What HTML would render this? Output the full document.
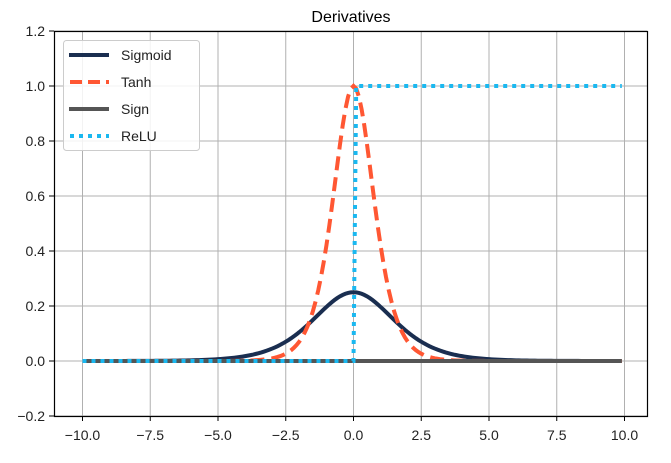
<!DOCTYPE html><html><head><style>body{margin:0;background:#fff}svg{font-family:"Liberation Sans","DejaVu Sans",sans-serif}</style></head><body>
<svg id="s" width="671" height="458" xmlns="http://www.w3.org/2000/svg">
<rect width="671" height="458" fill="#fff"/>
<g id="grid" stroke="#b0b0b0" stroke-width="1"></g>
<g id="lines" fill="none"></g>
<rect x="54.5" y="31.5" width="593" height="385" fill="none" stroke="#000" stroke-width="1.2"/>
<g id="ticks" font-size="14" fill="#222"></g>
<text x="351" y="22" font-size="16" text-anchor="middle" fill="#000">Derivatives</text>
<g>
<rect x="63.5" y="40.5" width="136" height="110" rx="3" fill="#fff" fill-opacity="0.85" stroke="#ccc"/>
<line x1="69" y1="55" x2="109" y2="55" stroke="#1a2e50" stroke-width="4"/>
<line x1="70" y1="82" x2="109" y2="82" stroke="#ff5733" stroke-width="4" stroke-dasharray="12,6"/>
<line x1="69" y1="109" x2="109" y2="109" stroke="#555" stroke-width="4"/>
<line x1="70" y1="136" x2="109" y2="136" stroke="#1ab8f0" stroke-width="4" stroke-dasharray="4,5"/>
<g font-size="14" fill="#222"><text x="121" y="60">Sigmoid</text><text x="121" y="87">Tanh</text><text x="121" y="114">Sign</text><text x="121" y="141">ReLU</text></g>
</g>
</svg>
<script>
var X=x=>353.5+27.1*x,Y=y=>361-275*y,ns="http://www.w3.org/2000/svg";
function el(p,t,a,txt){var e=document.createElementNS(ns,t);for(var k in a)e.setAttribute(k,a[k]);if(txt)e.textContent=txt;document.getElementById(p).appendChild(e);return e;}
for(var i=-10;i<=10;i+=2.5){var x=X(i);el("grid","line",{x1:x,x2:x,y1:31,y2:416});el("ticks","line",{x1:x,x2:x,y1:416,y2:421,stroke:"#000"});el("ticks","text",{x:x,y:440,"text-anchor":"middle"},i.toFixed(1).replace("-","−"));}
for(var j=-1;j<=6;j++){var v=j*0.2,y=Y(v);el("grid","line",{x1:54,x2:647,y1:y,y2:y});el("ticks","line",{x1:49,x2:54,y1:y,y2:y,stroke:"#000"});el("ticks","text",{x:45,y:y+5,"text-anchor":"end"},v.toFixed(1).replace("-","−"));}
function path(f){var d="";for(var k=0;k<=199;k++){var x=-10+k*0.1;d+=(k?"L":"M")+X(x).toFixed(2)+","+Y(f(x)).toFixed(2);}return d;}
var sg=x=>{var s=1/(1+Math.exp(-x));return s*(1-s)},th=x=>1-Math.pow(Math.tanh(x),2);
el("lines","path",{d:path(sg),stroke:"#1a2e50","stroke-width":4});
el("lines","path",{d:path(th),stroke:"#ff5733","stroke-width":4,"stroke-dasharray":"14,7"});
el("lines","path",{d:path(x=>0),stroke:"#555","stroke-width":4});
el("lines","path",{d:path(x=>x>0.05?1:0),stroke:"#1ab8f0","stroke-width":4,"stroke-dasharray":"4,5"});
</script>
</body></html>
